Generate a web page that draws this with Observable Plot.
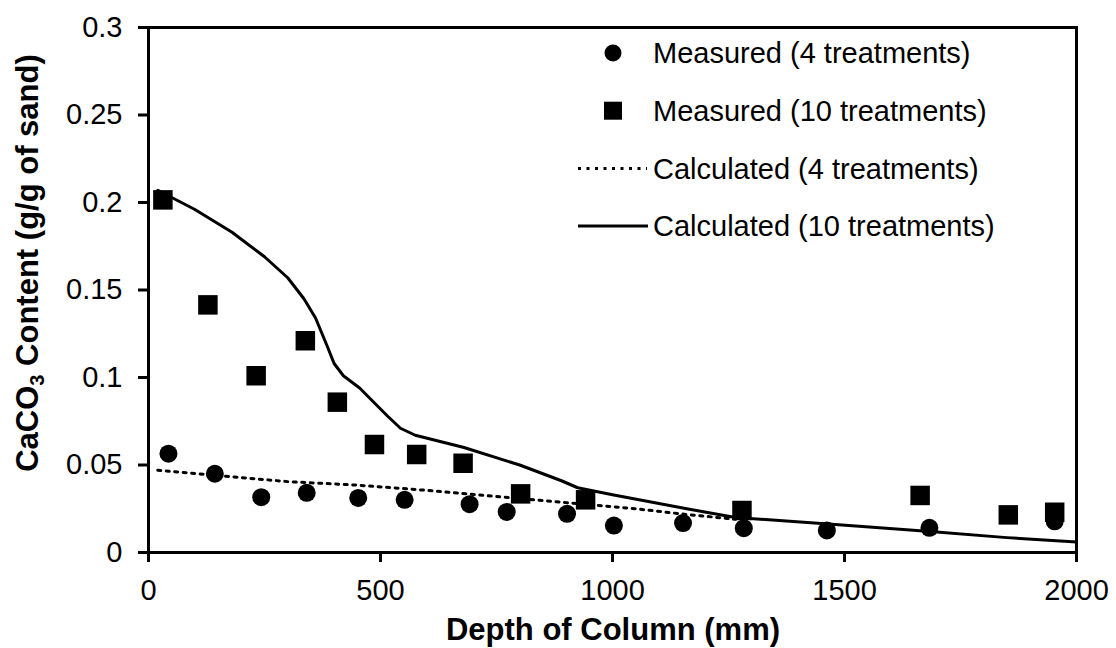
<!DOCTYPE html>
<html>
<head>
<meta charset="utf-8">
<script src="https://cdn.jsdelivr.net/npm/d3@7"></script>
<script src="https://cdn.jsdelivr.net/npm/@observablehq/plot@0.6"></script>
<style>
  body { margin: 0; background: #fff; }
  #wrap { width: 1116px; height: 648px; }
</style>
</head>
<body>
<div id="wrap"></div>
<script>
// ---- Data ----
const measured4Depth = [43, 143, 243, 341, 452, 552, 692, 772, 902, 1003, 1152, 1283, 1462, 1683, 1953];
const measured4Value = [0.0565, 0.045, 0.0316, 0.0341, 0.0312, 0.0301, 0.0276, 0.0232, 0.0221, 0.0154, 0.0168, 0.0139, 0.0126, 0.0141, 0.0178];

const measured10Depth = [31, 128, 232, 338, 407, 487, 578, 678, 802, 942, 1279, 1663, 1853, 1953];
const measured10Value = [0.2015, 0.1415, 0.101, 0.121, 0.0859, 0.0617, 0.056, 0.051, 0.0335, 0.0301, 0.024, 0.0326, 0.0215, 0.023];

const calc4Depth = [20, 150, 300, 450, 600, 750, 900, 1050, 1150, 1265];
const calc4Value = [0.047, 0.044, 0.0405, 0.0385, 0.0355, 0.032, 0.0285, 0.025, 0.022, 0.019];

const calc10Depth = [20, 100, 180, 250, 300, 335, 360, 385, 400, 420, 455, 485, 515, 543, 575, 680, 800, 890, 925, 1000, 1160, 1265, 1480, 1685, 1850, 2000];
const calc10Value = [0.207, 0.196, 0.183, 0.169, 0.157, 0.145, 0.134, 0.118, 0.108, 0.101, 0.094, 0.086, 0.078, 0.071, 0.067, 0.060, 0.050, 0.041, 0.037, 0.033, 0.025, 0.020, 0.016, 0.012, 0.0085, 0.006];

const xTicks = [0, 500, 1000, 1500, 2000];
const yTicks = [0, 0.05, 0.1, 0.15, 0.2, 0.25, 0.3];
const yTickLabels = ["0", "0.05", "0.1", "0.15", "0.2", "0.25", "0.3"];

const legendLabels = ["Measured (4 treatments)", "Measured (10 treatments)", "Calculated (4 treatments)", "Calculated (10 treatments)"];
const xTitle = "Depth of Column (mm)";

// ---- Build tables ----
const m4 = measured4Depth.map((d, i) => ({depth: d, value: measured4Value[i]}));
const m10 = measured10Depth.map((d, i) => ({depth: d, value: measured10Value[i]}));
const c4 = calc4Depth.map((d, i) => ({depth: d, value: calc4Value[i]}));
const c10 = calc10Depth.map((d, i) => ({depth: d, value: calc10Value[i]}));

const FONT = '"Liberation Sans", Arial, sans-serif';

const chart = Plot.plot({
  width: 1116,
  height: 648,
  marginLeft: 148,
  marginRight: 40,
  marginTop: 27,
  marginBottom: 96,
  style: {fontFamily: FONT, fontSize: "29px", color: "#000", background: "#fff"},
  x: {domain: [0, 2000]},
  y: {domain: [0, 0.3]},
  marks: [
    Plot.line(c4, {x: "depth", y: "value", stroke: "#000", strokeWidth: 3, strokeDasharray: "3,5.5"}),
    Plot.line(c10, {x: "depth", y: "value", stroke: "#000", strokeWidth: 3, curve: "linear"}),
    Plot.dot(m10, {x: "depth", y: "value", symbol: "square", r: 11, fill: "#000", stroke: "none"}),
    Plot.dot(m4, {x: "depth", y: "value", symbol: "circle", r: 9, fill: "#000", stroke: "none"}),
    Plot.frame({stroke: "#000", strokeWidth: 3}),
    Plot.axisX({ticks: xTicks, tickSize: 10, tickPadding: 17, strokeWidth: 3, label: null, tickFormat: d => String(d), fontSize: 29}),
    Plot.axisY({ticks: yTicks, tickSize: 10, tickPadding: 16, strokeWidth: 3, label: null, tickFormat: d => yTickLabels[yTicks.indexOf(d)], fontSize: 29})
  ]
});

document.getElementById("wrap").appendChild(chart);

const svg = d3.select(chart);

// X axis title
svg.append("text")
  .attr("x", 613).attr("y", 640)
  .attr("text-anchor", "middle")
  .attr("font-family", FONT).attr("font-weight", "bold").attr("font-size", 31)
  .attr("fill", "#000")
  .text(xTitle);

// Y axis title with subscript
const yt = svg.append("text")
  .attr("transform", "translate(38,263) rotate(-90)")
  .attr("text-anchor", "middle")
  .attr("font-family", FONT).attr("font-weight", "bold").attr("font-size", 31)
  .attr("fill", "#000");
yt.append("tspan").text("CaCO");
yt.append("tspan").attr("font-size", 20).attr("dy", "0.3em").text("3");
yt.append("tspan").attr("dy", "-0.2em").text(" Content (g/g of sand)");

// Legend
const lg = svg.append("g").attr("font-family", FONT).attr("font-size", 29).attr("fill", "#000").attr("text-anchor", "start");
legendLabels.forEach((label, i) => {
  const cy = 53 + i * 57.7;
  if (i === 0) lg.append("circle").attr("cx", 613).attr("cy", cy).attr("r", 8.5).attr("fill", "#000");
  if (i === 1) lg.append("rect").attr("x", 604).attr("y", cy - 9).attr("width", 18).attr("height", 18).attr("fill", "#000");
  if (i === 2) lg.append("line").attr("x1", 578).attr("x2", 647).attr("y1", cy).attr("y2", cy)
      .attr("stroke", "#000").attr("stroke-width", 3).attr("stroke-dasharray", "3,5.5");
  if (i === 3) lg.append("line").attr("x1", 578).attr("x2", 648).attr("y1", cy).attr("y2", cy)
      .attr("stroke", "#000").attr("stroke-width", 3);
  lg.append("text").attr("x", 653).attr("y", cy).attr("dy", "0.35em").attr("text-anchor", "start").text(label);
});
</script>
</body>
</html>
